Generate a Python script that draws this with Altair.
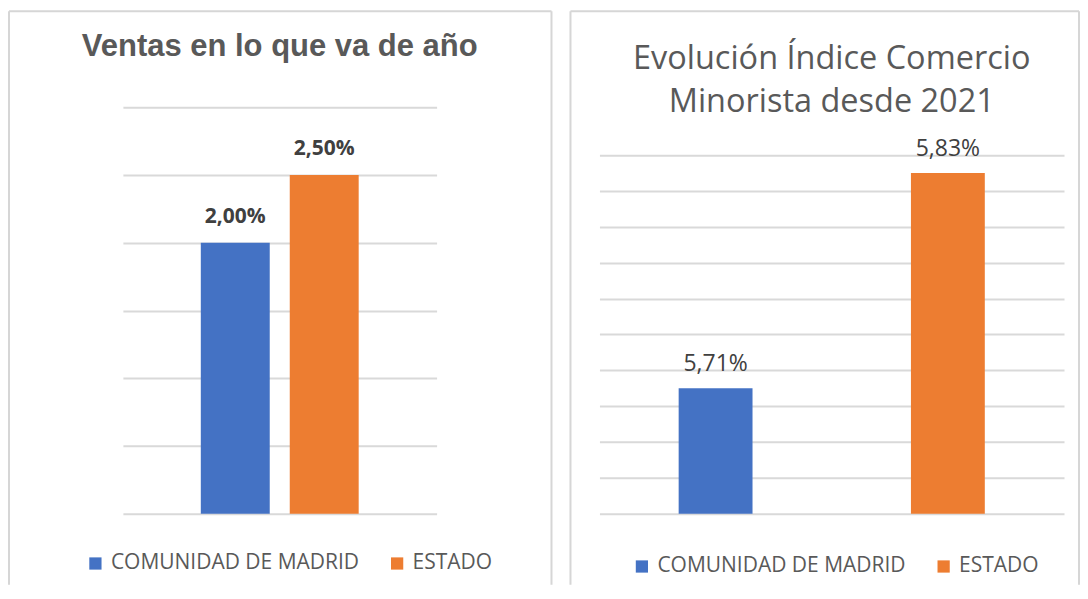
import altair as alt
import pandas as pd

SERIES = ["COMUNIDAD DE MADRID", "ESTADO"]
COLORS = ["#4472C4", "#ED7D31"]

LEFT_TITLE = "Ventas en lo que va de año"
LEFT_VALUES = [2.00, 2.50]
LEFT_TICKS = [0, 0.5, 1.0, 1.5, 2.0, 2.5, 3.0]

RIGHT_TITLE = ["Evolución Índice Comercio", "Minorista desde 2021"]
RIGHT_VALUES = [5.71, 5.83]
RIGHT_TICKS = [5.64, 5.66, 5.68, 5.70, 5.72, 5.74, 5.76, 5.78, 5.80, 5.82, 5.84]

GRID = "#d9d9d9"
BORDER = "#d6d6d6"
TEXT = "#595959"
LABEL = "#404040"

H = 407  # common plot height (both panels share the same baseline)


def fmt(v):
    return f"{v:.2f}".replace(".", ",") + "%"


def frame(left, right, top, bottom):
    one = alt.Data(values=[{"k": 1}])
    base = alt.Chart(one).mark_rule(color=BORDER, strokeWidth=2)
    return alt.layer(
        base.encode(x=alt.value(left), y=alt.value(top), y2=alt.value(bottom)),
        base.encode(x=alt.value(right), y=alt.value(top), y2=alt.value(bottom)),
        base.encode(x=alt.value(left), x2=alt.value(right), y=alt.value(top)),
    )


def panel(values, ticks, w, ytop, pad_in, pad_out, title, tfont, tsize, tweight,
          toffset, lfont, lsize, lweight, ldy, legx, legy, fr):
    df = pd.DataFrame({"serie": SERIES, "valor": values,
                       "etiqueta": [fmt(v) for v in values],
                       "base": [ticks[0]] * len(values)})
    xenc = alt.X("serie:N", sort=None, axis=None,
                 scale=alt.Scale(paddingInner=pad_in, paddingOuter=pad_out))
    yscale = alt.Scale(domain=[ticks[0], ticks[-1]], zero=False, nice=False,
                       range=[H, ytop])
    yaxis = alt.Axis(values=ticks, grid=True, gridColor=GRID, gridWidth=2,
                     labels=False, ticks=False, domain=False, title=None)
    base = alt.Chart(df)
    bars = base.mark_bar().encode(
        x=xenc,
        y=alt.Y("valor:Q", scale=yscale, title=None, axis=yaxis),
        y2="base:Q",
        color=alt.Color("serie:N", sort=None,
                        scale=alt.Scale(domain=SERIES, range=COLORS),
                        legend=alt.Legend(orient="none", legendX=legx, legendY=legy,
                                          direction="horizontal", title=None,
                                          symbolType="square", symbolSize=150,
                                          symbolStrokeWidth=0, labelFont="Open Sans",
                                          labelFontSize=21, labelColor=TEXT,
                                          labelOffset=5, columnPadding=27,
                                          labelLimit=500)),
    )
    labels = base.mark_text(font=lfont, fontSize=lsize, fontWeight=lweight,
                            color=LABEL, baseline="alphabetic", dy=ldy).encode(
        x=xenc, y=alt.Y("valor:Q", scale=yscale, title=None, axis=yaxis),
        text="etiqueta:N")
    return alt.layer(bars, labels, frame(*fr)).properties(
        width=w, height=H,
        title=alt.TitleParams(title, font=tfont, fontSize=tsize, fontWeight=tweight,
                              color=TEXT, anchor="middle", frame="group",
                              offset=toffset, lineHeight=43),
    )


left = panel(LEFT_VALUES, LEFT_TICKS, 314, 0, 0.225, 0.876, LEFT_TITLE,
             "Liberation Sans", 31, "bold", -53, "Open Sans", 21, "bold", -20,
             -38, 446, (-114, 429, -96, 478))
right = panel(RIGHT_VALUES, RIGHT_TICKS, 465, 48, 0.682, 0.341, RIGHT_TITLE,
              "Open Sans", 32.5, "normal", -108, "Open Sans", 23, "normal", -17,
              32, 449, (-29, 480, -96, 478))

chart = alt.hconcat(left, right, spacing=17).resolve_legend(color="independent").properties(
    padding={"left": 0, "top": 2, "right": 0, "bottom": 0}
).configure_view(stroke=None)

chart.save("out.html", embed_options={"renderer": "svg", "actions": False})
